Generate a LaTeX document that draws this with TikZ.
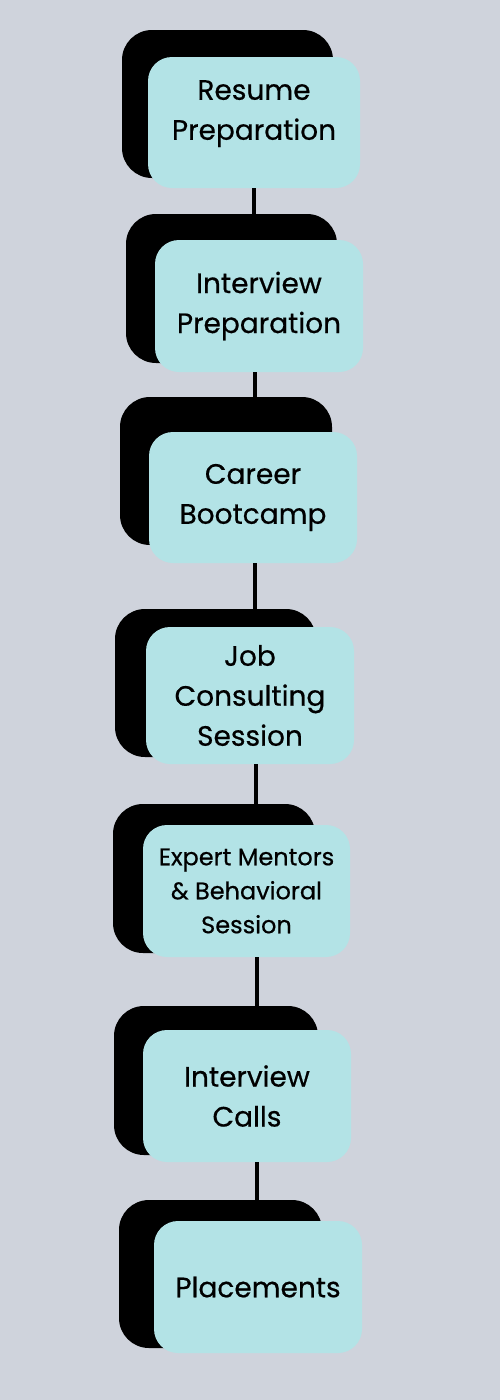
\documentclass[tikz,border=0pt]{standalone}
\usepackage{fontspec}
\setmainfont[UprightFeatures={FakeBold=0.5}]{Poppins}

\definecolor{bgcol}{HTML}{CFD3DC}
\definecolor{boxcol}{HTML}{B3E3E6}

\tikzset{
  shadowbox/.style={fill=black, rounded corners=30pt, inner sep=0pt},
  stepbox/.style={fill=boxcol, rounded corners=24pt, inner sep=0pt, align=center,
    font=\fontsize{28}{40}\selectfont},
  link/.style={line width=4pt}
}

\begin{document}
\begin{tikzpicture}[x=1pt,y=-1pt]
  % fond
  \fill[bgcol] (0,0) rectangle (500,1400);
  \useasboundingbox (0,0) rectangle (500,1400);
  % 1 Resume
  \node[shadowbox, minimum width=211pt, minimum height=148pt] (s1) at (227.5,104) {};
  \node[stepbox, minimum width=212pt, minimum height=131pt, text depth=25pt] (b1) at (254,122.5) {Resume\\Preparation};
  % 2 Interview
  \node[shadowbox, minimum width=211pt, minimum height=149pt] (s2) at (231.5,288.5) {};
  \node[stepbox, minimum width=208pt, minimum height=132pt] (b2) at (259,306) {Interview\\Preparation};
  % 3 Bootcamp
  \node[shadowbox, minimum width=212pt, minimum height=148pt] (s3) at (226,471) {};
  \node[stepbox, minimum width=208pt, minimum height=131pt] (b3) at (253,497.5) {Career\\Bootcamp};
  % 4 Consulting
  \node[shadowbox, minimum width=201pt, minimum height=148pt] (s4) at (215.5,683) {};
  \node[stepbox, minimum width=208pt, minimum height=137pt] (b4) at (250,695.5) {Job\\Consulting\\Session};
  % 5 Mentors
  \node[shadowbox, minimum width=202pt, minimum height=149pt] (s5) at (214,878.5) {};
  \node[stepbox, minimum width=207pt, minimum height=132pt, font=\fontsize{24}{34}\selectfont] (b5) at (246.5,891) {Expert Mentors\\\& Behavioral\\Session};
  % 6 Calls
  \node[shadowbox, minimum width=204pt, minimum height=149pt] (s6) at (216,1080.5) {};
  \node[stepbox, minimum width=208pt, minimum height=132pt] (b6) at (247,1096) {Interview\\Calls};
  % 7 Placements
  \node[shadowbox, minimum width=203pt, minimum height=148pt] (s7) at (220.5,1274) {};
  \node[stepbox, minimum width=208pt, minimum height=132pt] (b7) at (258,1287) {Placements};
  % liens
  \draw[link] (b1.south) -- (b1.south |- s2.north);
  \draw[link] ([xshift=-4pt]b2.south) -- ([xshift=-4pt]b2.south |- s3.north);
  \draw[link] ([xshift=2pt]b3.south) -- ([xshift=2pt]b3.south |- s4.north);
  \draw[link] ([xshift=6pt]b4.south) -- ([xshift=6pt]b4.south |- s5.north);
  \draw[link] ([xshift=10.5pt]b5.south) -- ([xshift=10.5pt]b5.south |- s6.north);
  \draw[link] ([xshift=10pt]b6.south) -- ([xshift=10pt]b6.south |- s7.north);
\end{tikzpicture}
\end{document}
